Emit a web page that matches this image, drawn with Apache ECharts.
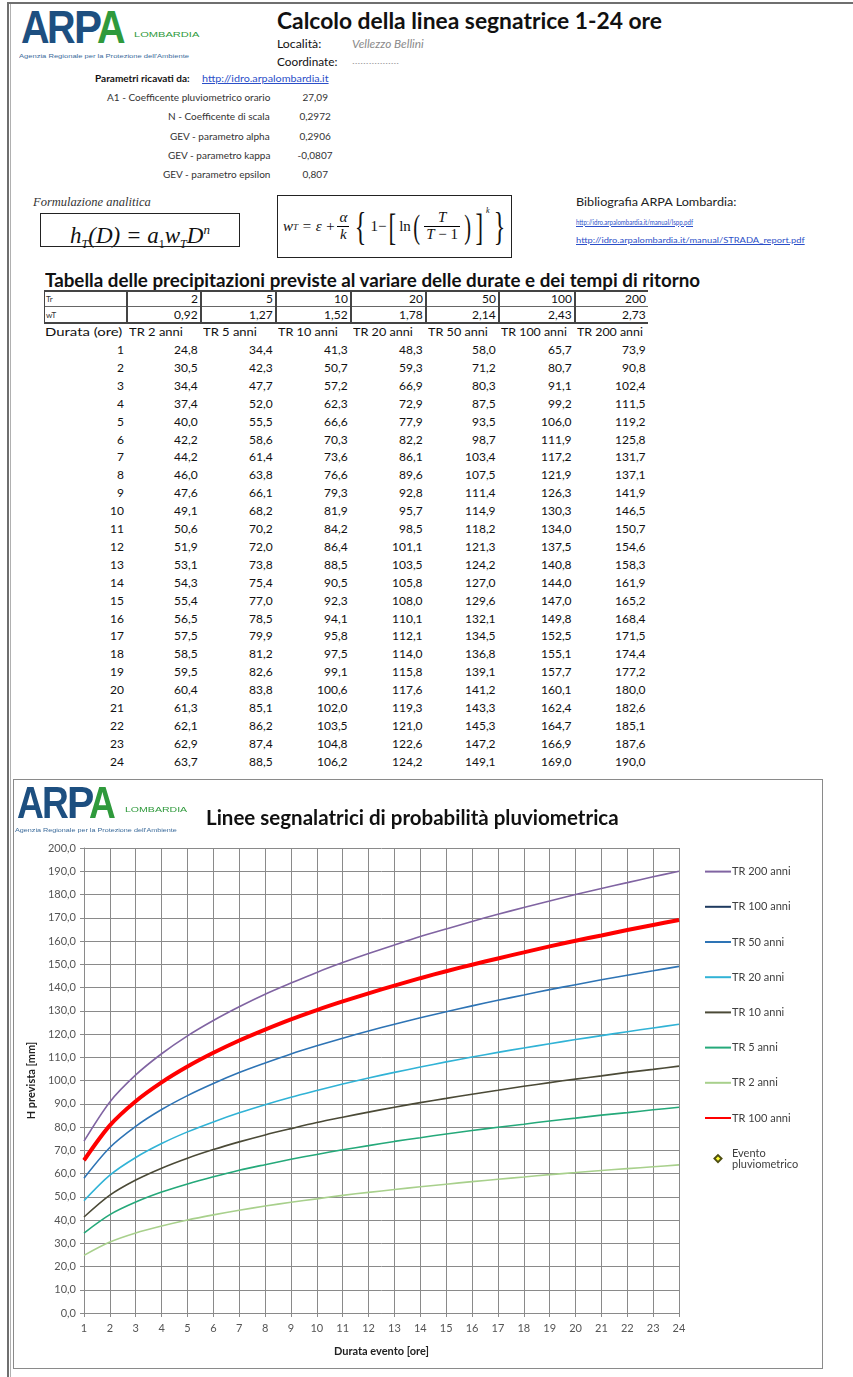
<!DOCTYPE html>
<html>
<head>
<meta charset="utf-8">
<script src="https://cdn.jsdelivr.net/npm/echarts@6/dist/echarts.min.js"></script>
<style>
  body { margin: 0; background: #fff; width: 853px; height: 1377px; position: relative; overflow: hidden; font-family: Lato, 'Open Sans', sans-serif; color: #111; }
  .a { position: absolute; white-space: nowrap; }
  .ln { position: absolute; }
  .serif { font-family: 'Liberation Serif', 'DejaVu Serif', serif; font-style: italic; }
  #chart { position: absolute; left: 13px; top: 779px; width: 810px; height: 590px; border: 1px solid #8a8a8a; box-sizing: border-box; }
  .frac { display: inline-flex; flex-direction: column; align-items: stretch; vertical-align: middle; margin: 0 2px; }
  .frac > span { line-height: 1.05; padding: 0 2px; text-align: center; }
  .frac > span:first-child { border-bottom: 1px solid #000; }
</style>
</head>
<body>
<div id="chart"></div>
<script>
// durate (ore) e tempi di ritorno
const hours = [1, 2, 3, 4, 5, 6, 7, 8, 9, 10, 11, 12, 13, 14, 15, 16, 17, 18, 19, 20, 21, 22, 23, 24];
const returnPeriods = [2, 5, 10, 20, 50, 100, 200];
const wT = [0.92, 1.27, 1.52, 1.78, 2.14, 2.43, 2.73];

const tr2 = [24.8, 30.5, 34.4, 37.4, 40.0, 42.2, 44.2, 46.0, 47.6, 49.1, 50.6, 51.9, 53.1, 54.3, 55.4, 56.5, 57.5, 58.5, 59.5, 60.4, 61.3, 62.1, 62.9, 63.7];
const tr5 = [34.4, 42.3, 47.7, 52.0, 55.5, 58.6, 61.4, 63.8, 66.1, 68.2, 70.2, 72.0, 73.8, 75.4, 77.0, 78.5, 79.9, 81.2, 82.6, 83.8, 85.1, 86.2, 87.4, 88.5];
const tr10 = [41.3, 50.7, 57.2, 62.3, 66.6, 70.3, 73.6, 76.6, 79.3, 81.9, 84.2, 86.4, 88.5, 90.5, 92.3, 94.1, 95.8, 97.5, 99.1, 100.6, 102.0, 103.5, 104.8, 106.2];
const tr20 = [48.3, 59.3, 66.9, 72.9, 77.9, 82.2, 86.1, 89.6, 92.8, 95.7, 98.5, 101.1, 103.5, 105.8, 108.0, 110.1, 112.1, 114.0, 115.8, 117.6, 119.3, 121.0, 122.6, 124.2];
const tr50 = [58.0, 71.2, 80.3, 87.5, 93.5, 98.7, 103.4, 107.5, 111.4, 114.9, 118.2, 121.3, 124.2, 127.0, 129.6, 132.1, 134.5, 136.8, 139.1, 141.2, 143.3, 145.3, 147.2, 149.1];
const tr100 = [65.7, 80.7, 91.1, 99.2, 106.0, 111.9, 117.2, 121.9, 126.3, 130.3, 134.0, 137.5, 140.8, 144.0, 147.0, 149.8, 152.5, 155.1, 157.7, 160.1, 162.4, 164.7, 166.9, 169.0];
const tr200 = [73.9, 90.8, 102.4, 111.5, 119.2, 125.8, 131.7, 137.1, 141.9, 146.5, 150.7, 154.6, 158.3, 161.9, 165.2, 168.4, 171.5, 174.4, 177.2, 180.0, 182.6, 185.1, 187.6, 190.0];

const paramLabels = ['A1 - Coefficente pluviometrico orario', 'N - Coefficente di scala', 'GEV - parametro alpha', 'GEV - parametro kappa', 'GEV - parametro epsilon'];
const paramValues = ['27,09', '0,2972', '0,2906', '-0,0807', '0,807'];

const RED_NAME = 'TR 100 anni evidenziata';
const EVENT_NAME = 'Evento pluviometrico';

const page = document.body;
const fmt = (v, d) => v.toFixed(d).replace('.', ',');

function put(txt, x, y, o = {}) {
  const d = document.createElement('div');
  d.className = 'a';
  d.textContent = txt;
  const fs = o.size || 12;
  const lh = Math.round(fs * 1.3);
  d.style.fontSize = fs + 'px';
  d.style.lineHeight = lh + 'px';
  d.style.top = y - lh / 2 + 'px';
  if (o.bold) d.style.fontWeight = 'bold';
  if (o.italic) d.style.fontStyle = 'italic';
  if (o.color) d.style.color = o.color;
  if (o.font) d.style.fontFamily = o.font;
  if (o.link) {
    d.style.color = '#2b4fc8';
    d.style.textDecoration = 'underline';
  }
  page.appendChild(d);
  let w = d.offsetWidth;
  if (o.width) {
    // stringe il testo alla larghezza
    d.style.transformOrigin = '0 0';
    d.style.transform = 'scaleX(' + o.width / w + ')';
    w = o.width;
  }
  if (o.align === 'right') d.style.left = x - w + 'px';
  else if (o.align === 'center') d.style.left = x - w / 2 + 'px';
  else d.style.left = x + 'px';
  return d;
}

function rule(x, y, w, h, color) {
  const d = document.createElement('div');
  d.className = 'ln';
  d.style.left = x + 'px';
  d.style.top = y + 'px';
  d.style.width = w + 'px';
  d.style.height = h + 'px';
  d.style.background = color || '#000';
  page.appendChild(d);
}

function logo(x, y, s) {
  const letters = [['A', '#1d4f80'], ['R', '#1d4f80'], ['P', '#1d4f80'], ['A', '#2f9a3c']];
  let cx = x;
  letters.forEach(([ch, c], i) => {
    put(ch, cx, y + 18 * s, { size: Math.round(44 * s), bold: true, color: c, font: "'Liberation Sans', sans-serif", width: 27 * s });
    cx += (i === 2 ? 22 : 25) * s;
  });
  put('LOMBARDIA', x + 108 * s, y + 26 * s, { size: Math.round(8 * s), color: '#2f9a3c', width: 62 * s, font: "'Liberation Sans', sans-serif" });
  put("Agenzia Regionale per la Protezione dell'Ambiente", x - 2 * s, y + 46 * s, { size: 6, color: '#3a6a9a', width: 162 * s, font: "'Liberation Sans', sans-serif" });
}

// cornice della pagina
rule(7, 2, 846, 2, '#6f6f6f');
rule(7, 2, 2, 1375, '#6f6f6f');
rule(10, 4, 1, 1373, '#b0b0b0');

// intestazione
logo(21, 8, 1.05);
put('Calcolo della linea segnatrice 1-24 ore', 277, 20, { size: 23, bold: true, width: 385 });
put('Località:', 277, 44, { size: 12, width: 44 });
put('Vellezzo Bellini', 352, 44, { size: 11, italic: true, color: '#8a8a8a', width: 72 });
put('Coordinate:', 277, 62, { size: 12, width: 60 });
put('.................', 352, 61, { size: 8, color: '#9a9a9a', width: 47 });

put('Parametri ricavati da:', 95, 79, { size: 9.5, bold: true, width: 95 });
put('http://idro.arpalombardia.it', 202, 79, { size: 9.5, link: true, width: 127 });
paramLabels.forEach((t, i) => {
  const y = 97.5 + i * 19.3;
  put(t, 270, y, { size: 10, align: 'right', color: '#333' });
  put(paramValues[i], 315, y, { size: 10, align: 'center', color: '#333' });
});

// formule
put('Formulazione analitica', 33, 202, { size: 12.5, italic: true, font: "'Liberation Serif', serif", color: '#333' });
const box1 = document.createElement('div');
box1.className = 'a serif';
box1.style.cssText += 'left:40px;top:213px;width:200px;height:34px;border:1.5px solid #222;box-sizing:border-box;font-size:23px;line-height:31px;text-align:center;';
box1.innerHTML = 'h<sub style="font-size:12px">T</sub>(D) = a<sub style="font-size:12px;font-style:normal">1</sub>w<sub style="font-size:12px">T</sub>D<sup style="font-size:13px">n</sup>';
page.appendChild(box1);

const box2 = document.createElement('div');
box2.className = 'a serif';
box2.style.cssText += 'left:277px;top:195px;width:235px;height:63px;border:1.5px solid #222;box-sizing:border-box;font-size:15px;display:flex;align-items:center;padding-left:5px;';
box2.innerHTML = 'w<sub style="font-size:9px">T</sub>&nbsp;= ε +' +
  '<span class="frac"><span>α</span><span>k</span></span>' +
  '<span style="font-style:normal;font-size:40px;transform:scaleX(0.6);display:inline-block;">{</span>' +
  '<span style="font-style:normal">1−</span>' +
  '<span style="font-style:normal;font-size:38px;display:inline-block;transform:scaleX(0.6)">[</span>' +
  '<span style="font-style:normal">ln</span>' +
  '<span style="font-style:normal;font-size:34px;display:inline-block;transform:scaleX(0.6)">(</span>' +
  '<span class="frac"><span>T</span><span>T<span style="font-style:normal"> − 1</span></span></span>' +
  '<span style="font-style:normal;font-size:34px;display:inline-block;transform:scaleX(0.6)">)</span>' +
  '<span style="font-style:normal;font-size:38px;display:inline-block;transform:scaleX(0.6)">]</span>' +
  '<sup style="font-size:8px;align-self:flex-start;margin-top:10px">k</sup>' +
  '<span style="font-style:normal;font-size:40px;transform:scaleX(0.6);display:inline-block;">}</span>';
page.appendChild(box2);

put('Bibliografia ARPA Lombardia:', 576, 202, { size: 12, width: 160, color: '#222' });
put('http://idro.arpalombardia.it/manual/lspp.pdf', 576, 222, { size: 7, link: true, width: 117 });
put('http://idro.arpalombardia.it/manual/STRADA_report.pdf', 576, 240, { size: 7, link: true, width: 229 });

// tabella
put('Tabella delle precipitazioni previste al variare delle durate e dei tempi di ritorno', 45, 280, { size: 18, bold: true, width: 655 });
const colEdges = [44, 126, 200, 275, 350, 425, 498, 574, 648];
rule(44, 290, 604, 2, '#444');
rule(44, 306, 604, 1, '#666');
rule(44, 322, 604, 2, '#444');
colEdges.forEach((x, i) => {
  if (i < colEdges.length - 1) rule(x, 290, i === 0 ? 1 : 2, 34, '#444');
});
put('Tr', 46, 299, { size: 8, color: '#333' });
put('wT', 46, 315, { size: 8, color: '#333' });
returnPeriods.forEach((t, i) => {
  put(String(t), colEdges[i + 2] - 2, 299, { size: 12, align: 'right' });
  put(fmt(wT[i], 2), colEdges[i + 2] - 2, 315, { size: 12, align: 'right' });
});
put('Durata (ore)', 45, 332, { size: 12, width: 77 });
returnPeriods.forEach((t, i) => {
  put('TR ' + t + ' anni', colEdges[i + 1] + 3, 332, { size: 12, width: t >= 100 ? 66 : t >= 10 ? 60 : 54 });
});
const tableCols = [tr2, tr5, tr10, tr20, tr50, tr100, tr200];
hours.forEach((h, r) => {
  const y = 350 + r * 17.9;
  put(String(h), colEdges[1] - 2, y, { size: 12, align: 'right' });
  tableCols.forEach((col, c) => {
    put(fmt(col[r], 1), colEdges[c + 2] - 2, y, { size: 12, align: 'right' });
  });
});

// logo del grafico
logo(17, 784, 1.0);

// grafico
const seriesDefs = [
  ['TR 200 anni', tr200, '#8064a2', 1.6],
  ['TR 100 anni', tr100, '#1f3a5f', 1.6],
  ['TR 50 anni', tr50, '#2e74b5', 1.6],
  ['TR 20 anni', tr20, '#31b3d6', 1.6],
  ['TR 10 anni', tr10, '#4b4a37', 1.6],
  ['TR 5 anni', tr5, '#25a97a', 1.6],
  ['TR 2 anni', tr2, '#a8d08c', 1.6],
  [RED_NAME, tr100, '#ff0000', 4],
];

// rombo piccolo: i punti agli angoli allargano il riquadro dell'icona
const diamondIcon = 'path://M0,0L0.01,0M16,16L16.01,16M8,4L12,8L8,12L4,8Z';

const chart = echarts.init(document.getElementById('chart'));
const gridColor = '#8a8a8a';
chart.setOption({
  animation: false,
  title: {
    text: 'Linee segnalatrici di probabilità pluviometrica',
    left: 187,
    top: 23,
    textStyle: { fontFamily: 'Lato', fontSize: 20.5, fontWeight: 'bold', color: '#111' },
  },
  grid: { left: 70, right: 143, top: 68, bottom: 55 },
  legend: {
    orient: 'vertical',
    left: 690,
    top: 86,
    itemWidth: 26,
    itemHeight: 14,
    itemGap: 24,
    padding: 0,
    itemStyle: { opacity: 0 },
    textStyle: { fontFamily: 'Lato', fontSize: 11, color: '#404040', padding: [0, 0, 0, -4] },
    formatter: (n) => (n === RED_NAME ? 'TR 100 anni' : n === EVENT_NAME ? 'Evento\npluviometrico' : n),
    data: seriesDefs
      .map((d) => ({ name: d[0] }))
      .concat([{ name: EVENT_NAME, icon: diamondIcon, itemStyle: { opacity: 1 } }]),
  },
  xAxis: {
    type: 'value',
    min: 1,
    max: 24,
    interval: 1,
    name: 'Durata evento [ore]',
    nameLocation: 'middle',
    nameGap: 33,
    nameTextStyle: { fontFamily: 'Lato', fontSize: 11, fontWeight: 'bold', color: '#222' },
    axisLine: { lineStyle: { color: gridColor } },
    axisTick: { length: 4, lineStyle: { color: gridColor } },
    axisLabel: { fontFamily: 'Lato', fontSize: 11, color: '#555', margin: 10 },
    splitLine: { lineStyle: { color: gridColor, width: 1 } },
  },
  yAxis: {
    type: 'value',
    min: 0,
    max: 200,
    interval: 10,
    name: 'H prevista [mm]',
    nameLocation: 'middle',
    nameGap: 40,
    nameTextStyle: { fontFamily: 'Lato', fontSize: 11, fontWeight: 'bold', color: '#222' },
    axisLine: { show: true, lineStyle: { color: gridColor } },
    axisTick: { show: true, length: 4, lineStyle: { color: gridColor } },
    axisLabel: { fontFamily: 'Lato', fontSize: 11, color: '#555', margin: 8, formatter: (v) => fmt(v, 1) },
    splitLine: { lineStyle: { color: gridColor, width: 1 } },
  },
  series: seriesDefs
    .map(([name, vals, color, w]) => ({
      name,
      type: 'line',
      data: hours.map((h, i) => [h, vals[i]]),
      smooth: 0.3,
      symbol: 'none',
      color,
      lineStyle: { color, width: w },
    }))
    .concat([
      {
        name: EVENT_NAME,
        type: 'scatter',
        data: [],
        symbol: 'diamond',
        symbolSize: 7,
        itemStyle: { color: '#ffff33', borderColor: '#4f4f10', borderWidth: 1.5 },
      },
    ]),
});
</script>
</body>
</html>
